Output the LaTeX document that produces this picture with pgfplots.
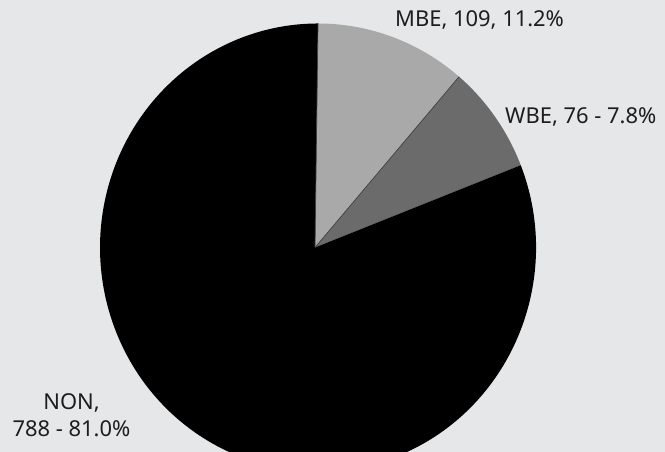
\documentclass[border=0pt]{standalone}
\usepackage{fontspec}
\setmainfont{Noto Sans}
\usepackage{pgfplots}
\pgfplotsset{compat=1.18}
\usepackage{pgfplotstable}
\definecolor{bg}{HTML}{E6E7E8}
\definecolor{mbe}{HTML}{A9A9A9}
\definecolor{wbe}{HTML}{6B6B6B}
\definecolor{non}{HTML}{000000}
\definecolor{txt}{HTML}{1E1C1D}
\pgfplotstableread{
label value
MBE 109
WBE 76
NON 788
}\piedata
\begin{document}
\begin{tikzpicture}[x=1bp,y=1bp]
\pgfplotstablegetelem{0}{value}\of\piedata \let\vA\pgfplotsretval
\pgfplotstablegetelem{1}{value}\of\piedata \let\vB\pgfplotsretval
\pgfplotstablegetelem{2}{value}\of\piedata \let\vC\pgfplotsretval
\pgfmathsetmacro\tot{\vA+\vB+\vC}
\pgfmathsetmacro\fA{\vA/\tot}
\pgfmathsetmacro\fB{\vB/\tot}
\pgfmathsetmacro\aA{90}
\pgfmathsetmacro\aB{90-360*\fA}
\pgfmathsetmacro\aC{\aB-360*\fB}
\pgfmathsetmacro\aD{90-360}
\def\vx{315}\def\cx{318}\def\cy{204.5}\def\rx{218}\def\ry{224}
\fill[bg] (0,0) rectangle (665,452);
\begin{axis}[at={(0,0)}, anchor=south west, scale only axis,
  width=665bp, height=452bp, xmin=0, xmax=665, ymin=0, ymax=452,
  hide axis, clip=true]
\fill[mbe] (axis cs:\vx,\cy) -- (axis cs:{\cx+\rx*cos(\aA)},{\cy+\ry*sin(\aA)})
  arc[start angle=\aA, end angle=\aB, x radius=\rx bp, y radius=\ry bp] -- cycle;
\fill[wbe] (axis cs:\vx,\cy) -- (axis cs:{\cx+\rx*cos(\aB)},{\cy+\ry*sin(\aB)})
  arc[start angle=\aB, end angle=\aC, x radius=\rx bp, y radius=\ry bp] -- cycle;
\fill[non] (axis cs:\vx,\cy) -- (axis cs:{\cx+\rx*cos(\aC)},{\cy+\ry*sin(\aC)})
  arc[start angle=\aC, end angle=\aD, x radius=\rx bp, y radius=\ry bp] -- cycle;
\draw[black!75, line width=0.7bp] (axis cs:\vx,\cy) -- (axis cs:{\cx+\rx*cos(\aB)},{\cy+\ry*sin(\aB)});
\draw[black!75, line width=0.7bp] (axis cs:\vx,\cy) -- (axis cs:{\cx+\rx*cos(\aA)},{\cy+\ry*sin(\aA)});
\node[anchor=base west, inner sep=0pt, text=txt, font=\fontsize{22}{26}\selectfont] at (axis cs:395,425) {MBE, 109, 11.2\%};
\node[anchor=base west, inner sep=0pt, text=txt, font=\fontsize{22}{26}\selectfont] at (axis cs:505,328) {WBE, 76 - 7.8\%};
\node[anchor=base, inner sep=0pt, text=txt, font=\fontsize{22}{26}\selectfont] at (axis cs:71.5,42) {NON,};
\node[anchor=base, inner sep=0pt, text=txt, font=\fontsize{22}{26}\selectfont] at (axis cs:71.5,15) {788 - 81.0\%};
\end{axis}
\end{tikzpicture}
\end{document}
